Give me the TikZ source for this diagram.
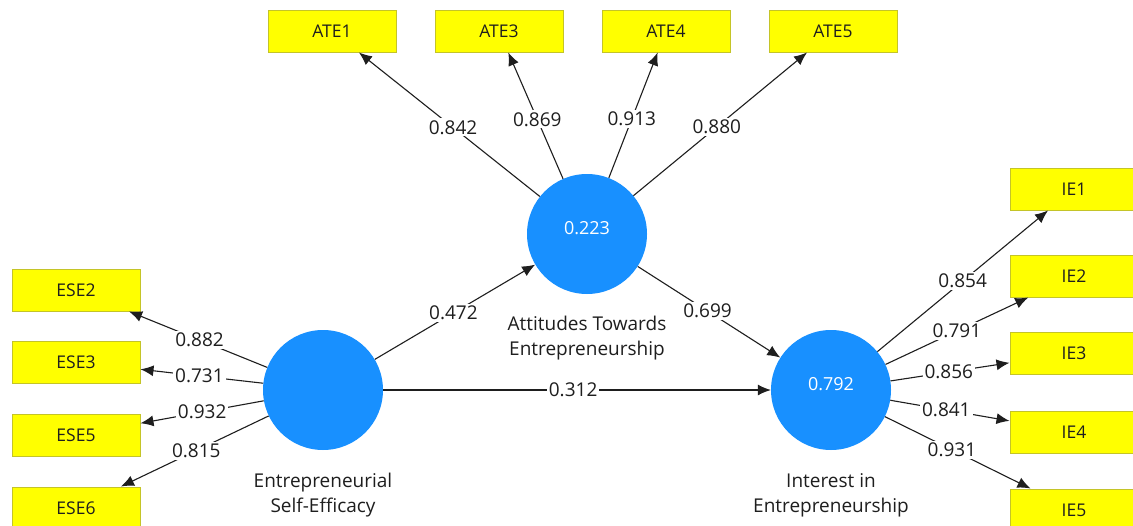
\documentclass[tikz,border=0pt]{standalone}
\usepackage{fontspec}
\setmainfont{Open Sans}
\usetikzlibrary{arrows.meta}
\definecolor{lvblue}{RGB}{24,144,255}
\definecolor{mvyellow}{RGB}{255,255,0}
\definecolor{mvborder}{RGB}{196,196,40}
\definecolor{ink}{RGB}{30,30,30}
\begin{document}
\begin{tikzpicture}[x=1pt,y=-1pt,
  mv/.style={draw=mvborder, fill=mvyellow, line width=1pt, minimum width=128pt, minimum height=42pt, inner sep=0pt, font=\fontsize{17.5}{19}\selectfont, text=ink},
  lv/.style={circle, fill=lvblue, minimum size=120pt, inner sep=0pt},
  lvval/.style={text=white, font=\fontsize{18}{20}\selectfont},
  lvname/.style={align=center, font=\fontsize{19}{25}\selectfont, text=ink},
  lbl/.style={fill=white, inner sep=2pt, font=\fontsize{19}{21}\selectfont, text=ink},
  conn/.style={draw=ink, line width=1.1pt, -{Latex[length=13pt,width=11pt]}}
]
\clip (0,0) rectangle (1133,525);
\fill[white] (0,0) rectangle (1133,525);

% indicator boxes
\node[mv] (ate1) at (332,31) {ATE1};
\node[mv] (ate3) at (499,31) {ATE3};
\node[mv] (ate4) at (666,31) {ATE4};
\node[mv] (ate5) at (833,31) {ATE5};

\node[mv] (ese2) at (76,290) {ESE2};
\node[mv] (ese3) at (76,362) {ESE3};
\node[mv] (ese5) at (76,435) {ESE5};
\node[mv] (ese6) at (76,508) {ESE6};

\node[mv] (ie1) at (1074,189) {IE1};
\node[mv] (ie2) at (1074,276) {IE2};
\node[mv] (ie3) at (1074,353) {IE3};
\node[mv] (ie4) at (1074,432) {IE4};
\node[mv] (ie5) at (1074,510) {IE5};

% latent variables
\node[lv] (ate) at (587,234) {};
\node[lv] (ese) at (323,390) {};
\node[lv] (ie) at (831,390) {};
\node[lvval] (atev) at (587,228) {0.223};
\node[lvval] (iev) at (831,384) {0.792};

\node[lvname] (aten) at (587,338) {Attitudes Towards\\Entrepreneurship};
\node[lvname] (esen) at (323,495) {Entrepreneurial\\Self-Efficacy};
\node[lvname] (ien) at (831,495) {Interest in\\Entrepreneurship};

% outer loadings ATE
\draw[conn] (ate) -- node[lbl,pos=0.48] {0.842} (ate1);
\draw[conn] (ate) -- node[lbl,pos=0.47] {0.869} (ate3);
\draw[conn] (ate) -- node[lbl,pos=0.47] {0.913} (ate4);
\draw[conn] (ate) -- node[lbl,pos=0.48] {0.880} (ate5);

% outer loadings ESE
\draw[conn] (ese) -- node[lbl,pos=0.49] {0.882} (ese2);
\draw[conn] (ese) -- node[lbl,pos=0.52] {0.731} (ese3);
\draw[conn] (ese) -- node[lbl,pos=0.50] {0.932} (ese5);
\draw[conn] (ese) -- node[lbl,pos=0.49] {0.815} (ese6);

% outer loadings IE
\draw[conn] (ie) -- node[lbl,pos=0.50] {0.854} (ie1);
\draw[conn] (ie) -- node[lbl,pos=0.50] {0.791} (ie2);
\draw[conn] (ie) -- node[lbl,pos=0.49] {0.856} (ie3);
\draw[conn] (ie) -- node[lbl,pos=0.47] {0.841} (ie4);
\draw[conn] (ie) -- node[lbl,pos=0.46] {0.931} (ie5);

% structural paths
\draw[conn] (ese) -- node[lbl,pos=0.49] {0.472} (ate);
\draw[conn] (ate) -- node[lbl,pos=0.49] {0.699} (ie);
\draw[conn] (ese) -- node[lbl,pos=0.49] {0.312} (ie);
\end{tikzpicture}
\end{document}
